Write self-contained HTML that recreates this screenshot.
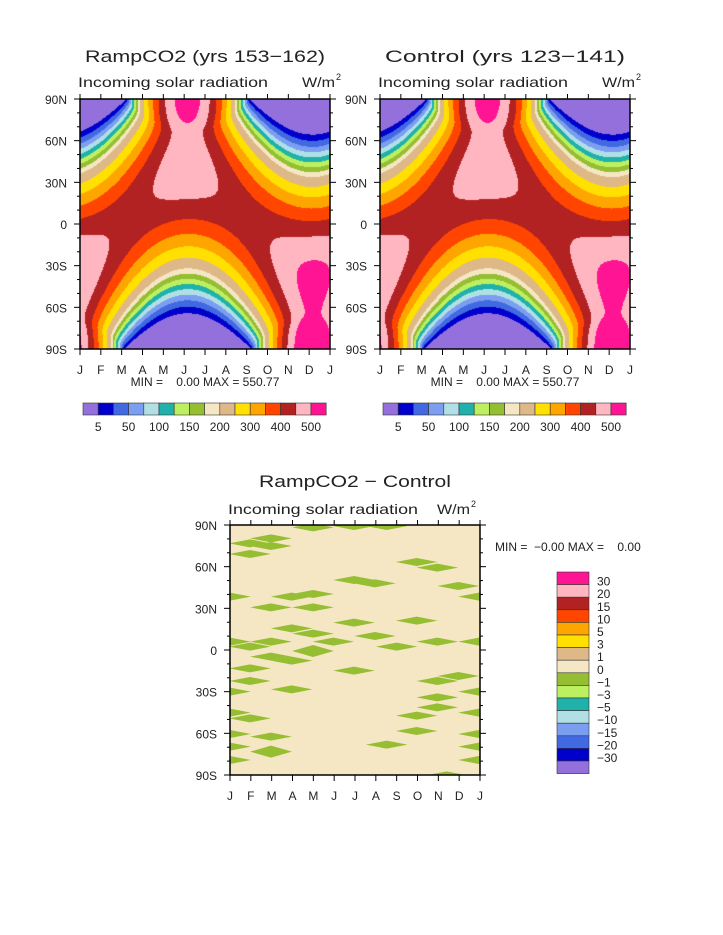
<!DOCTYPE html>
<html><head><meta charset="utf-8"><style>
html,body{margin:0;padding:0;background:#fff;}
#w{position:relative;width:723px;height:935px;overflow:hidden;}
canvas{position:absolute;}
svg{position:absolute;left:0;top:0;}
text{font-family:"Liberation Sans",sans-serif;fill:#222;}
</style></head><body><div id="w">
<canvas id="c1" width="250" height="250" style="left:80px;top:99px"></canvas>
<canvas id="c2" width="250" height="250" style="left:380px;top:99px"></canvas>
<svg id="s" width="723" height="935"></svg>
</div>
<script>
(function(){
var cols=["#9370DB","#0000CD","#4169E1","#7B9EF0","#B0E0E6","#20B2AA","#BDF060","#96BE32","#F5E6C4","#DEB887","#FFE000","#FFA500","#FF4500","#B22222","#FFB6C1","#FF1493"];
var lev=[5,25,50,75,100,125,150,175,200,250,300,350,400,450,500];
function hex(h){return [parseInt(h.substr(1,2),16),parseInt(h.substr(3,2),16),parseInt(h.substr(5,2),16)];}
var rgb=cols.map(hex);
function Q(t,lat){var d=15+t*30.42;var dec=23.44*Math.PI/180*Math.sin(2*Math.PI*(d-81)/365);
var E=1+0.0334*Math.cos(2*Math.PI*(d-3)/365);var p=lat*Math.PI/180;
var c=-Math.tan(p)*Math.tan(dec);var h0;if(c>=1)h0=0;else if(c<=-1)h0=Math.PI;else h0=Math.acos(c);
return 1361/Math.PI*E*(h0*Math.sin(p)*Math.sin(dec)+Math.cos(p)*Math.cos(dec)*Math.sin(h0));}
["c1","c2"].forEach(function(id){var cv=document.getElementById(id),ctx=cv.getContext("2d");var im=ctx.createImageData(250,250);
for(var y=0;y<250;y++){var lat=90-(y+0.5)/250*180;if(lat>89.9)lat=89.9;if(lat<-89.9)lat=-89.9;
for(var x=0;x<250;x++){var q=Q((x+0.5)/250*12,lat);var k=0;while(k<15&&q>=lev[k])k++;var c=rgb[k];var i=(y*250+x)*4;im.data[i]=c[0];im.data[i+1]=c[1];im.data[i+2]=c[2];im.data[i+3]=255;}}
ctx.putImageData(im,0,0);});
var s="";
function T(x,y,t,sz,anch,extra){s+='<text x="'+x+'" y="'+y+'" font-size="'+sz+'" text-anchor="'+(anch||"start")+'" '+(extra||"")+'>'+t+'</text>';}
var mon="JFMAMJJASONDJ";
function axes(x0,y0){
 s+='<rect x="'+x0+'" y="'+y0+'" width="250" height="250" fill="none" stroke="#000" stroke-width="1.5"/>';
 for(var i=0;i<=12;i++){var x=x0+i*250/12;s+='<line x1="'+x+'" y1="'+(y0-5)+'" x2="'+x+'" y2="'+y0+'" stroke="#000"/><line x1="'+x+'" y1="'+(y0+250)+'" x2="'+x+'" y2="'+(y0+256)+'" stroke="#000"/>';
 T(x,y0+275,mon[i],12,"middle");}
 var lab=["90N","60N","30N","0","30S","60S","90S"];
 for(var j=0;j<=18;j++){var y=y0+j*250/18;var maj=j%3==0;var L=maj?6:3;
 s+='<line x1="'+(x0-L)+'" y1="'+y+'" x2="'+x0+'" y2="'+y+'" stroke="#000"/><line x1="'+(x0+250)+'" y1="'+y+'" x2="'+(x0+250+L)+'" y2="'+y+'" stroke="#000"/>';
 if(maj){T(x0-13,y+5,lab[j/3],12,"end");}}
}
function drawTop(x0,title){
 T(x0+125,62,title,17,"middle",'textLength="240" lengthAdjust="spacingAndGlyphs"');
 T(x0-2,87,"Incoming solar radiation",14,"start",'textLength="190" lengthAdjust="spacingAndGlyphs"');
 T(x0+222,87,"W/m",14,"start",'textLength="33" lengthAdjust="spacingAndGlyphs"');T(x0+256,80,"2",9);
 axes(x0,99);
 T(x0+125,386,"MIN =    0.00 MAX = 550.77",12,"middle",'xml:space="preserve"');
 var bx=x0+3,bw=15.2;
 for(var k=0;k<16;k++){s+='<rect x="'+(bx+k*bw)+'" y="403" width="'+bw+'" height="12" fill="'+cols[k]+'" stroke="#333" stroke-width="0.6"/>';}
 var L=["5","50","100","150","200","300","400","500"];
 for(var m=0;m<8;m++){T(bx+(2*m+1)*bw,431,L[m],12,"middle");}
}
drawTop(80,"RampCO2 (yrs 153−162)");
drawTop(380,"Control (yrs 123−141)");
s+='<rect x="230" y="525" width="250" height="250" fill="#F5E6C4"/>';
var D=[[369,112],[492,108],[590,108],[243,145],[180,160],[243,168],[180,192],[680,216],[742,233],[492,270],[555,280],[805,288],[120,320],[867,320],[305,320],[369,312],[243,352],[369,352],[492,398],[680,392],[305,415],[369,431],[555,438],[430,455],[243,455],[120,455],[742,455],[867,455],[180,470],[620,470],[369,483],[243,500],[305,512],[180,535],[492,542],[180,573],[742,573],[805,558],[305,598],[120,605],[867,605],[742,622],[742,652],[680,677],[120,668],[867,668],[180,685],[680,723],[120,732],[243,740],[867,732],[590,764],[120,770],[867,770],[243,785],[120,810],[867,810],[770,856]];
s+='<g fill="#96BE32">';
D.forEach(function(d){var x=190+d[0]/3,y=490+d[1]/3,w=20.8,h=(d[0]==369&&d[1]==483)||(d[0]==243&&d[1]==785)?6:4;
s+='<polygon points="'+(x-w)+','+y+' '+x+','+(y-h)+' '+(x+w)+','+y+' '+x+','+(y+h)+'"/>';});
s+='</g><rect x="200" y="520" width="30" height="260" fill="#fff"/><rect x="480" y="520" width="20" height="260" fill="#fff"/><rect x="230" y="520" width="250" height="5" fill="#fff"/><rect x="230" y="775" width="250" height="5" fill="#fff"/>';
T(355,487,"RampCO2 − Control",17,"middle",'textLength="192" lengthAdjust="spacingAndGlyphs"');
T(228,514,"Incoming solar radiation",14,"start",'textLength="190" lengthAdjust="spacingAndGlyphs"');
T(437,514,"W/m",14,"start",'textLength="33" lengthAdjust="spacingAndGlyphs"');T(471,507,"2",9);
axes(230,525);
T(495,551,"MIN =  −0.00 MAX =    0.00",12,"start",'xml:space="preserve"');
var bc=cols.slice().reverse();var bl=["30","20","15","10","5","3","1","0","−1","−3","−5","−10","−15","−20","−30"];
for(var k=0;k<16;k++){s+='<rect x="557" y="'+(572+k*12.6)+'" width="32" height="12.6" fill="'+bc[k]+'" stroke="#333" stroke-width="0.6"/>';}
for(var k=0;k<15;k++){T(597,572+(k+1)*12.6+1,bl[k],12,"start");}
document.getElementById("s").innerHTML=s;
})();
</script></body></html>
